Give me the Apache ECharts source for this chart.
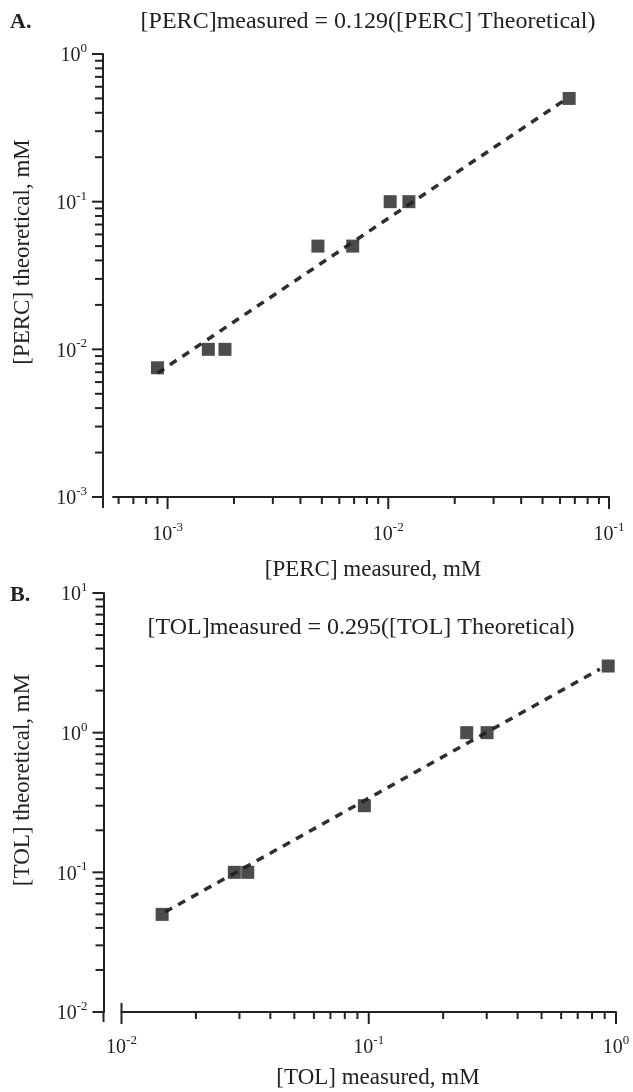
<!DOCTYPE html>
<html><head><meta charset="utf-8">
<script src="https://cdn.jsdelivr.net/npm/echarts@6/dist/echarts.min.js"></script>
<style>html,body{margin:0;padding:0;background:#fff}#c{width:633px;height:1092px}</style>
</head><body><div id="c"></div><script>
// ---- Panel A (PERC) ----
const percMeasured    = [0.0009, 0.00153, 0.00182, 0.0048, 0.0069, 0.0102, 0.0124, 0.066];
const percTheoretical = [0.0075, 0.01,    0.01,    0.05,   0.05,   0.1,    0.1,    0.5];
const percFitMeasured    = [0.0009, 0.062];
const percFitTheoretical = [0.0069, 0.48];
const percXRange = [0.000566, 0.1];
const percYRange = [0.001, 1];
// ---- Panel B (TOL) ----
const tolMeasured    = [0.0146, 0.0286, 0.0324, 0.096, 0.249, 0.301, 0.93];
const tolTheoretical = [0.05,   0.1,    0.1,    0.3,   1,     1,     3];
const tolFitMeasured    = [0.015, 0.86];
const tolFitTheoretical = [0.052, 2.85];
const tolXRange = [0.01, 1];
const tolYRange = [0.01, 10];
// ---- Texts ----
const titleA = '[PERC]measured = 0.129([PERC] Theoretical)';
const titleB = '[TOL]measured = 0.295([TOL] Theoretical)';
const xNameA = '[PERC] measured, mM';
const yNameA = '[PERC] theoretical, mM';
const xNameB = '[TOL] measured, mM';
const yNameB = '[TOL] theoretical, mM';

const FONT = '"Liberation Serif", "DejaVu Serif", serif';
const INK = '#222';

function logTicks(range) {
  const out = [];
  const e0 = Math.floor(Math.log10(range[0])), e1 = Math.ceil(Math.log10(range[1]));
  for (let e = e0; e <= e1; e++) {
    for (let m = 1; m <= 9; m++) {
      const v = m * Math.pow(10, e);
      if (v >= range[0] * (1 - 1e-9) && v <= range[1] * (1 + 1e-9)) out.push({ v, major: m === 1 });
    }
  }
  return out;
}
function zip(a, b) { return a.map((v, i) => [v, b[i]]); }

const labelFmt = function (v) {
  const l = Math.log10(v);
  const e = Math.round(l);
  if (Math.abs(l - e) > 1e-6) return '';
  return '{b|10}{s|' + e + '}';
};
const labelRich = {
  b: { fontFamily: FONT, fontSize: 20, color: INK, lineHeight: 24, verticalAlign: 'bottom' },
  s: { fontFamily: FONT, fontSize: 13, color: INK, lineHeight: 14, verticalAlign: 'top' }
};

function xTickSeries(gi, xRange, yRange, crossFirst) {
  return {
    type: 'custom', xAxisIndex: gi, yAxisIndex: gi, clip: false, silent: true, z: 5,
    data: logTicks(xRange).map(t => [t.v, yRange[0], t.major ? 1 : 0]),
    encode: { x: 0, y: 1 },
    renderItem: function (params, api) {
      const p = api.coord([api.value(0), api.value(1)]);
      const major = api.value(2) === 1;
      const len = major ? 12 : 7;
      let y0 = p[1];
      if (crossFirst && params.dataIndex === 0) y0 = p[1] - 9;
      return { type: 'line', shape: { x1: p[0], y1: y0, x2: p[0], y2: p[1] + len },
        style: { stroke: INK, lineWidth: 2 } };
    }
  };
}
function yTickSeries(gi, xRange, yRange, offset, ext) {
  return {
    type: 'custom', xAxisIndex: gi, yAxisIndex: gi, clip: false, silent: true, z: 5,
    data: logTicks(yRange).map(t => [xRange[0], t.v, t.major ? 1 : 0]),
    encode: { x: 0, y: 1 },
    renderItem: function (params, api) {
      const p = api.coord([api.value(0), api.value(1)]);
      const major = api.value(2) === 1;
      const len = major ? 11 : 8;
      const x0 = p[0] - offset;
      const children = [{ type: 'line', shape: { x1: x0 - len, y1: p[1], x2: x0, y2: p[1] },
        style: { stroke: INK, lineWidth: 2 } }];
      if (params.dataIndex === 0) {
        children.push({ type: 'line', shape: { x1: x0, y1: p[1], x2: x0, y2: p[1] + ext },
          style: { stroke: INK, lineWidth: 2 } });
      }
      return { type: 'group', children };
    }
  };
}

function xAxisCfg(gi, range, margin) {
  return {
    type: 'log', logBase: 10, gridIndex: gi, min: range[0], max: range[1],
    axisLine: { show: true, lineStyle: { color: INK, width: 2 } },
    axisTick: { show: false }, splitLine: { show: false }, minorTick: { show: false },
    axisLabel: { margin, formatter: labelFmt, rich: labelRich, showMinLabel: true, showMaxLabel: true }
  };
}
function yAxisCfg(gi, range, offset) {
  return {
    type: 'log', logBase: 10, gridIndex: gi, min: range[0], max: range[1], offset,
    axisLine: { show: true, lineStyle: { color: INK, width: 2 } },
    axisTick: { show: false }, splitLine: { show: false }, minorTick: { show: false },
    axisLabel: { margin: 16, formatter: labelFmt, rich: labelRich }
  };
}

function txt(text, x, y, size, opts) {
  opts = opts || {};
  return {
    type: 'text', x, y, rotation: opts.rot || 0, silent: true,
    style: {
      text, x: 0, y: 0, fill: INK,
      font: (opts.bold ? 'bold ' : '') + size + 'px ' + FONT,
      textAlign: opts.align || 'center', textVerticalAlign: 'middle',
      align: opts.align || 'center', verticalAlign: 'middle'
    }
  };
}

const chart = echarts.init(document.getElementById('c'), null, { renderer: 'canvas' });
chart.setOption({
  backgroundColor: '#fff',
  animation: false,
  grid: [
    { left: 113, right: 24, top: 54, bottom: 595 },
    { left: 121.5, right: 17, top: 593, bottom: 80 }
  ],
  xAxis: [xAxisCfg(0, percXRange, 24), xAxisCfg(1, tolXRange, 22)],
  yAxis: [yAxisCfg(0, percYRange, 10), yAxisCfg(1, tolYRange, 18)],
  graphic: [
    txt('A.', 10, 22, 22, { bold: true, align: 'left' }),
    txt(titleA, 368, 22, 24),
    txt(xNameA, 373, 570, 23),
    txt(yNameA, 23, 252, 23, { rot: Math.PI / 2 }),
    txt('B.', 10, 595, 22, { bold: true, align: 'left' }),
    txt(titleB, 361, 628, 24),
    txt(xNameB, 378, 1078, 23),
    txt(yNameB, 23, 780, 23, { rot: Math.PI / 2 })
  ],
  series: [
    { type: 'line', xAxisIndex: 0, yAxisIndex: 0, data: zip(percFitMeasured, percFitTheoretical),
      symbol: 'none', silent: true, z: 3,
      lineStyle: { color: '#2e2e2e', width: 3.5, type: [8, 7] } },
    { type: 'scatter', xAxisIndex: 0, yAxisIndex: 0, data: zip(percMeasured, percTheoretical),
      symbol: 'rect', symbolSize: 13, itemStyle: { color: '#1f1f1f' }, z: 4 },
    { type: 'line', xAxisIndex: 1, yAxisIndex: 1, data: zip(tolFitMeasured, tolFitTheoretical),
      symbol: 'none', silent: true, z: 3,
      lineStyle: { color: '#2e2e2e', width: 3.5, type: [8, 7] } },
    { type: 'scatter', xAxisIndex: 1, yAxisIndex: 1, data: zip(tolMeasured, tolTheoretical),
      symbol: 'rect', symbolSize: 13, itemStyle: { color: '#1f1f1f' }, z: 4 },
    xTickSeries(0, percXRange, percYRange, false),
    yTickSeries(0, percXRange, percYRange, 10, 11),
    xTickSeries(1, tolXRange, tolYRange, true),
    yTickSeries(1, tolXRange, tolYRange, 18, 10)
  ]
});
</script></body></html>
